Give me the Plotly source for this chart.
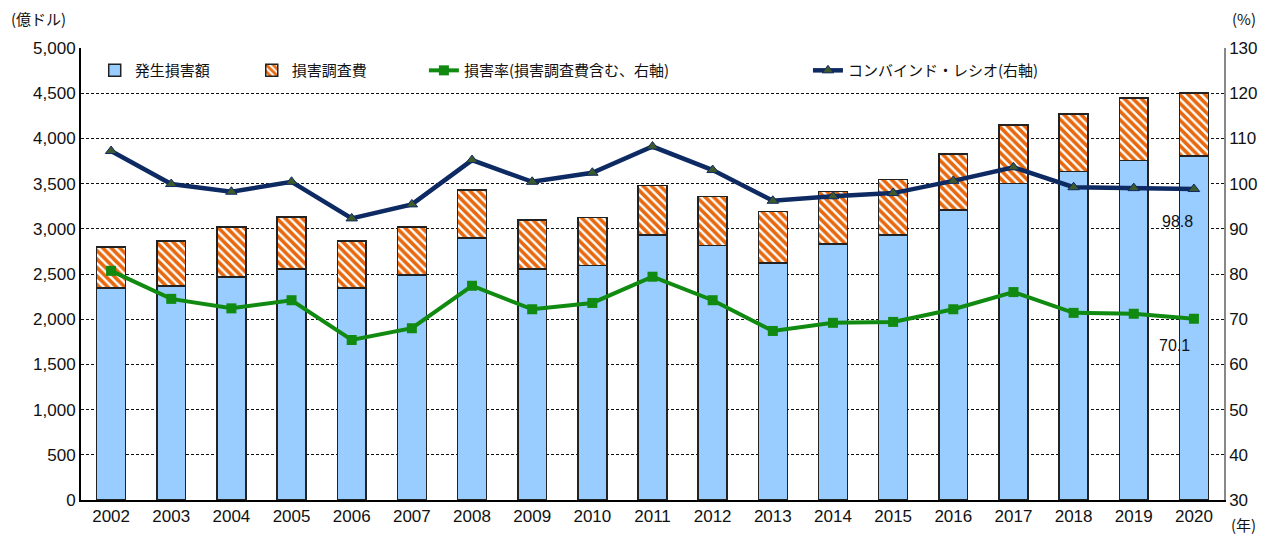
import plotly.graph_objects as go

years = [str(y) for y in range(2002, 2021)]

# 億ドル
incurred = [2345, 2367, 2467, 2555, 2345, 2489, 2898, 2555, 2592, 2931,
            2813, 2622, 2832, 2931, 3208, 3499, 3636, 3753, 3805]
totals = [2800, 2865, 3020, 3130, 2865, 3020, 3430, 3097, 3123, 3481,
          3359, 3193, 3410, 3547, 3827, 4151, 4270, 4447, 4500]
adjust = [t - i for t, i in zip(totals, incurred)]

# %
loss_ratio = [80.7, 74.5, 72.4, 74.2, 65.4, 68.0, 77.4, 72.2, 73.6, 79.4,
              74.2, 67.4, 69.2, 69.4, 72.2, 76.0, 71.4, 71.2, 70.1]
combined = [107.2, 99.9, 98.2, 100.4, 92.3, 95.4, 105.2, 100.4, 102.4, 108.2,
            103.0, 96.2, 97.2, 97.9, 100.6, 103.6, 99.2, 99.0, 98.8]

NUM_FONT = "Liberation Sans, Arial, sans-serif"
JP_FONT = "Noto Sans CJK JP, sans-serif"

fig = go.Figure()

fig.add_trace(go.Bar(
    x=years, y=incurred, name="発生損害額", legend="legend", showlegend=True,
    marker=dict(color="#99CCFF", line=dict(color="#222222", width=1.5)),
))
fig.add_trace(go.Bar(
    x=years, y=adjust, name="損害調査費", legend="legend2", showlegend=True,
    marker=dict(color="white", line=dict(color="#222222", width=1.5),
                pattern=dict(shape="\\", fgcolor="#E8680E", bgcolor="white",
                             fgopacity=1, size=6, solidity=0.6)),
))
fig.add_trace(go.Scatter(
    x=years, y=loss_ratio, name="損害率(損害調査費含む、右軸)", yaxis="y2",
    legend="legend3", showlegend=True, mode="lines+markers",
    line=dict(color="#108A10", width=4),
    marker=dict(symbol="square", size=10, color="#108A10"),
))
fig.add_trace(go.Scatter(
    x=years, y=combined, name="コンバインド・レシオ(右軸)", yaxis="y2",
    legend="legend4", showlegend=True, mode="lines+markers",
    line=dict(color="#0E2A63", width=4.5),
    marker=dict(symbol="triangle-up", size=10, color="#3E5A2C",
                line=dict(color="#0E2A63", width=1)),
))

leg = dict(orientation="h", yanchor="middle", y=0.950, xanchor="left",
           bgcolor="rgba(0,0,0,0)", font=dict(family=JP_FONT, size=15, color="#111111"),
           itemwidth=30)

# the page body adds 8px around the figure, so the figure is 8px smaller
fig.update_layout(
    width=1261, height=526,
    margin=dict(l=73, r=45, t=40, b=34, autoexpand=False),
    paper_bgcolor="white", plot_bgcolor="white",
    showlegend=True,
    barmode="stack", bargap=0.52,
    font=dict(family=NUM_FONT, size=17, color="#111111"),
    legend=dict(leg, x=0.012),
    legend2=dict(leg, x=0.1494),
    legend3=dict(leg, x=0.300),
    legend4=dict(leg, x=0.636),
    xaxis=dict(type="category", range=[-0.5, len(years) - 0.5],
               showline=True, linecolor="black", linewidth=2,
               ticks="", showgrid=False, automargin=False,
               tickfont=dict(family=NUM_FONT, size=17)),
    yaxis=dict(range=[0, 5000], dtick=500, tickformat=",", showline=True,
               linecolor="black", linewidth=2, showgrid=True,
               gridcolor="#111111", gridwidth=1, griddash="3px,2px",
               zeroline=False, ticks="", automargin=False,
               tickfont=dict(family=NUM_FONT, size=17)),
    yaxis2=dict(range=[30, 130], dtick=10, overlaying="y", side="right",
                showline=True, linecolor="#888888", linewidth=1.5,
                showgrid=False, zeroline=False, ticks="", automargin=False,
                tickfont=dict(family=NUM_FONT, size=17)),
    annotations=[
        dict(text="(億ドル)", xref="paper", yref="paper", x=-0.063, y=1.066,
             xanchor="left", yanchor="middle", showarrow=False,
             font=dict(family=JP_FONT, size=15)),
        dict(text="(%)", xref="paper", yref="paper", x=1.005, y=1.066,
             xanchor="left", yanchor="middle", showarrow=False,
             font=dict(family=JP_FONT, size=15)),
        dict(text="(年)", xref="paper", yref="paper", x=1.004, y=-0.055,
             xanchor="left", yanchor="middle", showarrow=False,
             font=dict(family=JP_FONT, size=15)),
        dict(text="98.8", x=len(years) - 1, y=91.7, xref="x", yref="y2",
             xshift=-16, showarrow=False, font=dict(family=NUM_FONT, size=16)),
        dict(text="70.1", x=len(years) - 1, y=64.1, xref="x", yref="y2",
             xshift=-19, showarrow=False, font=dict(family=NUM_FONT, size=16)),
    ],
)

fig.write_html("out.html")
